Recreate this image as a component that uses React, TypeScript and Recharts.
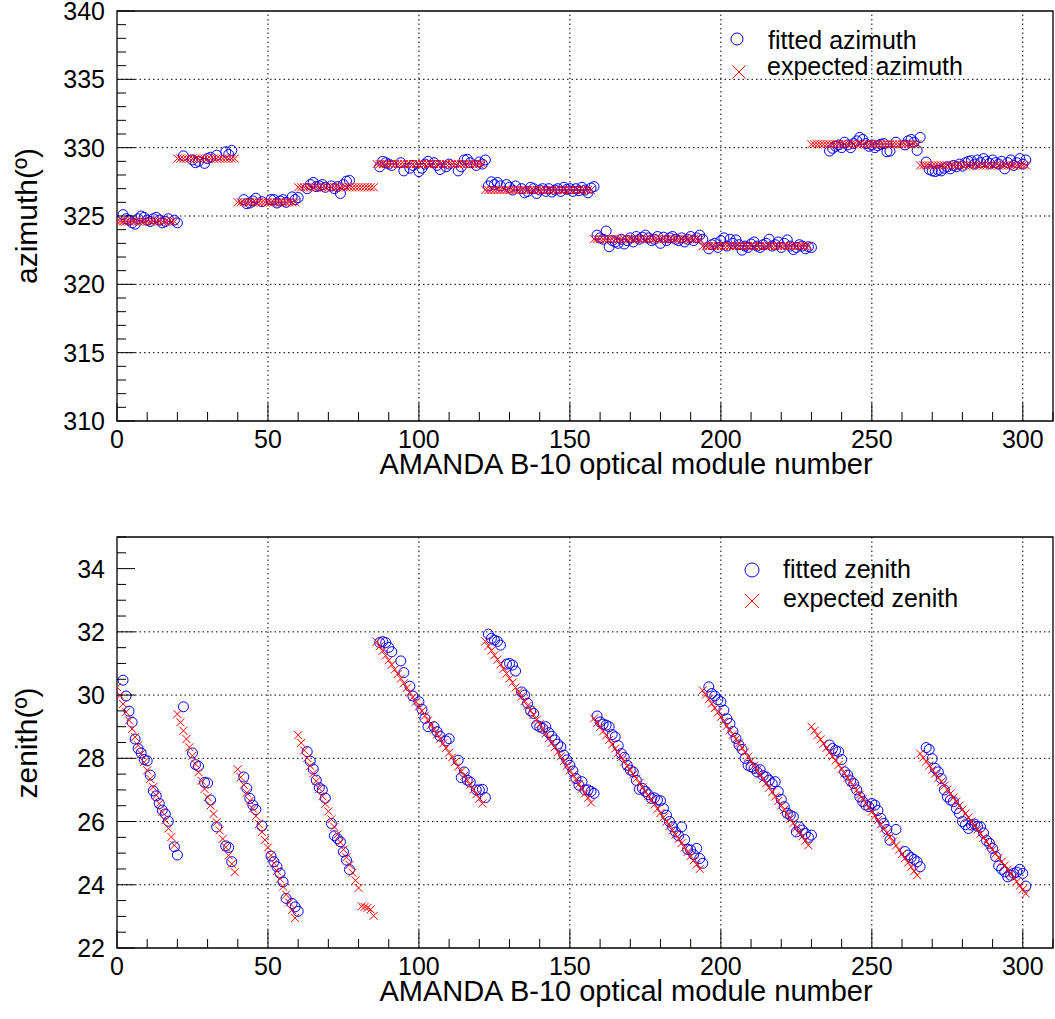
import React from "react";
import {
  ScatterChart,
  Scatter,
  XAxis,
  YAxis,
  ReferenceLine,
  ReferenceArea,
} from "recharts";

const FONT = "'Liberation Sans', Arial, Helvetica, sans-serif";

// expected azimuth per optical module (OM 1..302), grouped by string
const expectedAzimuth: number[][] = [
  [324.6, 324.6, 324.6, 324.6, 324.6, 324.6, 324.6, 324.6, 324.6, 324.6,
   324.6, 324.6, 324.6, 324.6, 324.6, 324.6, 324.6, 324.6, 324.6, 324.6],
  [329.2, 329.2, 329.2, 329.2, 329.2, 329.2, 329.2, 329.2, 329.2, 329.2,
   329.2, 329.2, 329.2, 329.2, 329.2, 329.2, 329.2, 329.2, 329.2, 329.2],
  [326.0, 326.0, 326.0, 326.0, 326.0, 326.0, 326.0, 326.0, 326.0, 326.0,
   326.0, 326.0, 326.0, 326.0, 326.0, 326.0, 326.0, 326.0, 326.0, 326.0],
  [327.1, 327.1, 327.1, 327.1, 327.1, 327.1, 327.1, 327.1, 327.1, 327.1,
   327.1, 327.1, 327.1, 327.1, 327.1, 327.1, 327.1, 327.1, 327.1, 327.1,
   327.1, 327.1, 327.1, 327.1, 327.1, 327.1],
  [328.8, 328.8, 328.8, 328.8, 328.8, 328.8, 328.8, 328.8, 328.8, 328.8,
   328.8, 328.8, 328.8, 328.8, 328.8, 328.8, 328.8, 328.8, 328.8, 328.8,
   328.8, 328.8, 328.8, 328.8, 328.8, 328.8, 328.8, 328.8, 328.8, 328.8,
   328.8, 328.8, 328.8, 328.8, 328.8, 328.8],
  [326.9, 326.9, 326.9, 326.9, 326.9, 326.9, 326.9, 326.9, 326.9, 326.9,
   326.9, 326.9, 326.9, 326.9, 326.9, 326.9, 326.9, 326.9, 326.9, 326.9,
   326.9, 326.9, 326.9, 326.9, 326.9, 326.9, 326.9, 326.9, 326.9, 326.9,
   326.9, 326.9, 326.9, 326.9, 326.9, 326.9],
  [323.3, 323.3, 323.3, 323.3, 323.3, 323.3, 323.3, 323.3, 323.3, 323.3,
   323.3, 323.3, 323.3, 323.3, 323.3, 323.3, 323.3, 323.3, 323.3, 323.3,
   323.3, 323.3, 323.3, 323.3, 323.3, 323.3, 323.3, 323.3, 323.3, 323.3,
   323.3, 323.3, 323.3, 323.3, 323.3, 323.3],
  [322.8, 322.8, 322.8, 322.8, 322.8, 322.8, 322.8, 322.8, 322.8, 322.8,
   322.8, 322.8, 322.8, 322.8, 322.8, 322.8, 322.8, 322.8, 322.8, 322.8,
   322.8, 322.8, 322.8, 322.8, 322.8, 322.8, 322.8, 322.8, 322.8, 322.8,
   322.8, 322.8, 322.8, 322.8, 322.8, 322.8],
  [330.25, 330.25, 330.25, 330.25, 330.25, 330.25, 330.25, 330.25, 330.25, 330.25,
   330.25, 330.25, 330.25, 330.25, 330.25, 330.25, 330.25, 330.25, 330.25, 330.25,
   330.25, 330.25, 330.25, 330.25, 330.25, 330.25, 330.25, 330.25, 330.25, 330.25,
   330.25, 330.25, 330.25, 330.25, 330.25, 330.25],
  [328.7, 328.7, 328.7, 328.7, 328.7, 328.7, 328.7, 328.7, 328.7, 328.7,
   328.7, 328.7, 328.7, 328.7, 328.7, 328.7, 328.7, 328.7, 328.7, 328.7,
   328.7, 328.7, 328.7, 328.7, 328.7, 328.7, 328.7, 328.7, 328.7, 328.7,
   328.7, 328.7, 328.7, 328.7, 328.7, 328.7],
];

// fitted azimuth (null = no fit for that OM)
const fittedAzimuth: (number | null)[][] = [
  [null, 325.1, 324.8, 324.7, 324.5, 324.4, 324.8, 325.0, 324.9, 324.7,
   324.6, 324.8, 324.9, 324.7, 324.5, 324.6, 324.8, null, 324.7, 324.5],
  [null, 329.4, null, null, 329.1, 328.9, 329.0, null, 328.85, 329.2,
   329.3, null, 329.45, null, null, 329.7, 329.5, 329.8, null, null],
  [null, 326.2, 325.9, 325.95, 326.1, 326.3, null, 326.05, null, null,
   326.2, 326.2, 325.95, 326.1, 326.2, 326.0, null, 326.4, 326.2, 326.35],
  [null, null, 327.0, 327.3, 327.45, 327.15, 327.2, 327.3, 327.1, null,
   327.2, 327.0, 327.15, 326.65, 327.3, 327.55, 327.6, null, null, null,
   null, null, null, null, null, null],
  [328.6, 329.0, 328.9, 328.8, 328.7, null, null, 328.9, 328.3, null,
   328.5, 328.7, null, 328.25, 328.5, 328.8, 329.0, null, 328.9, 328.7,
   328.4, null, 328.6, 328.8, null, null, 328.3, 328.6, 329.1, 329.15,
   328.9, null, 328.7, 328.95, 328.8, 329.1],
  [327.2, 327.5, 327.3, 327.45, 327.2, null, 327.3, 327.1, 326.9, 327.2,
   null, 327.0, 326.7, 326.8, 327.1, 327.0, 326.65, 326.9, 327.0, 326.8,
   327.0, 326.75, 326.9, 327.0, 326.8, 327.1, 326.95, 327.0, 326.8, 327.0,
   326.85, 327.1, 326.9, 326.7, 327.05, 327.15],
  [323.6, 323.4, 323.3, 323.9, 322.75, 323.2, 323.1, 323.0, 323.3, 322.95,
   323.2, 323.4, 323.1, 323.5, 323.3, 323.45, 323.6, 323.4, 323.2, 323.3,
   323.5, 323.0, 323.45, 323.2, 323.4, 323.5, 323.3, 323.2, 323.4, 323.1,
   323.3, 323.5, 323.2, 323.4, 323.6, 323.3],
  [null, 322.6, 322.9, 323.0, 322.7, 323.2, 323.4, 322.8, 323.3, 323.0,
   323.25, 322.9, 322.5, 322.8, 322.7, 322.95, 323.1, 322.8, 322.7, 322.9,
   323.0, 323.3, 322.8, 322.9, 323.1, 322.7, 323.0, 323.25, 322.8, 322.55,
   322.7, 322.9, 322.8, 322.6, 322.75, 322.7],
  [null, null, null, null, null, 329.75, 329.95, 330.1, 330.2, 330.0,
   330.4, 330.2, 330.0, 330.3, 330.5, 330.75, 330.6, 330.3, 330.1, 330.2,
   330.0, 330.15, 330.25, 330.3, 329.7, 329.75, null, 330.4, null, null,
   330.2, 330.5, 330.6, 330.4, 329.8, 330.75],
  [null, 328.95, 328.4, 328.3, 328.25, 328.35, 328.3, 328.5, 328.6, 328.45,
   328.7, 328.6, 328.8, 328.65, 328.9, 329.0, 329.05, 328.8, 329.1, 328.9,
   329.2, 329.0, 328.85, 329.1, 328.9, 328.8, 329.0, 328.45, 328.9, 329.1,
   328.7, 328.9, 329.2, 328.8, 329.1, null],
];

// expected zenith per OM
const expectedZenith: number[][] = [
  [30.25, 29.99, 29.72, 29.46, 29.2, 28.93, 28.67, 28.41, 28.14, 27.88,
   27.62, 27.35, 27.09, 26.83, 26.57, 26.3, 26.04, 25.78, 25.51, 25.25],
  [29.4, 29.14, 28.87, 28.61, 28.35, 28.08, 27.82, 27.56, 27.29, 27.03,
   26.77, 26.51, 26.24, 25.98, 25.72, 25.45, 25.19, 24.93, 24.66, 24.4],
  [27.65, 27.4, 27.16, 26.91, 26.66, 26.41, 26.17, 25.92, 25.67, 25.42,
   25.18, 24.93, 24.68, 24.43, 24.19, 23.94, 23.69, 23.44, 23.2, 22.95],
  [28.73, 28.49, 28.25, 28.01, 27.76, 27.52, 27.28, 27.04, 26.8, 26.56,
   26.32, 26.07, 25.83, 25.59, 25.35, 25.11, 24.87, 24.63, 24.38, 24.14,
   23.9, 23.32, 23.3, 23.27, 23.22, 23.02],
  [31.69, 31.54, 31.4, 31.25, 31.1, 30.96, 30.81, 30.67, 30.52, 30.37,
   30.23, 30.08, 29.93, 29.79, 29.64, 29.5, 29.35, 29.2, 29.06, 28.91,
   28.76, 28.62, 28.47, 28.33, 28.18, 28.03, 27.89, 27.74, 27.59, 27.45,
   27.3, 27.16, 27.01, 26.86, 26.72, 26.57],
  [31.7, 31.55, 31.41, 31.26, 31.12, 30.97, 30.83, 30.68, 30.53, 30.39,
   30.24, 30.1, 29.95, 29.81, 29.66, 29.51, 29.37, 29.22, 29.08, 28.93,
   28.79, 28.64, 28.49, 28.35, 28.2, 28.06, 27.91, 27.77, 27.62, 27.47,
   27.33, 27.18, 27.04, 26.89, 26.75, 26.6],
  [29.26, 29.12, 28.99, 28.85, 28.72, 28.58, 28.44, 28.31, 28.17, 28.04,
   27.9, 27.76, 27.63, 27.49, 27.36, 27.22, 27.08, 26.95, 26.81, 26.68,
   26.54, 26.4, 26.27, 26.13, 26.0, 25.86, 25.72, 25.59, 25.45, 25.32,
   25.18, 25.04, 24.91, 24.77, 24.64, 24.5],
  [30.15, 30.01, 29.87, 29.73, 29.59, 29.45, 29.31, 29.17, 29.03, 28.89,
   28.75, 28.61, 28.47, 28.33, 28.19, 28.05, 27.91, 27.77, 27.63, 27.49,
   27.35, 27.21, 27.07, 26.93, 26.79, 26.65, 26.51, 26.37, 26.23, 26.09,
   25.95, 25.81, 25.67, 25.53, 25.39, 25.25],
  [29.0, 28.87, 28.73, 28.6, 28.46, 28.33, 28.19, 28.06, 27.93, 27.79,
   27.66, 27.52, 27.39, 27.25, 27.12, 26.99, 26.85, 26.72, 26.58, 26.45,
   26.31, 26.18, 26.05, 25.91, 25.78, 25.64, 25.51, 25.37, 25.24, 25.11,
   24.97, 24.84, 24.7, 24.57, 24.43, 24.3],
  [28.15, 28.02, 27.9, 27.77, 27.64, 27.52, 27.39, 27.26, 27.14, 27.01,
   26.88, 26.76, 26.63, 26.5, 26.38, 26.25, 26.13, 26.0, 25.87, 25.75,
   25.62, 25.49, 25.37, 25.24, 25.11, 24.99, 24.86, 24.73, 24.61, 24.48,
   24.35, 24.23, 24.1, 23.97, 23.85, 23.72],
];

// fitted zenith (null = no fit)
const fittedZenith: (number | null)[][] = [
  [null, 30.47, 29.97, 29.49, 29.14, 28.61, 28.31, 28.17, 27.96, 27.92,
   27.47, 26.97, 26.81, 26.57, 26.36, 26.24, 26.01, null, 25.2, 24.94],
  [null, 29.63, null, null, 28.17, 27.8, 27.75, null, 27.24, 27.22,
   26.68, null, 25.83, null, null, 25.23, 25.18, 24.73, null, null],
  [null, 27.41, 27.05, 26.73, 26.52, 26.38, null, 25.86, null, null,
   24.91, 24.73, 24.57, 24.36, 24.09, 23.57, null, 23.41, 23.3, 23.16],
  [null, null, 28.21, 27.91, 27.66, 27.31, 27.07, 27.0, 26.74, null,
   25.94, 25.55, 25.46, 25.36, 25.04, 24.78, 24.48, null, null, null,
   null, null, null, null, null, null],
  [31.66, 31.69, 31.66, 31.51, 31.37, null, null, 31.08, 30.71, null,
   30.28, 29.97, null, 29.79, 29.55, 29.26, 29.0, null, 29.0, 28.84,
   28.7, null, 28.55, 28.62, null, null, 27.94, 27.39, 27.57, 27.31,
   27.25, null, 27.0, 27.0, 27.02, 26.76],
  [31.93, 31.79, 31.74, 31.7, 31.58, null, 30.98, 31.0, 30.95, 30.76,
   null, 30.1, 30.0, 29.74, 29.5, 29.42, 29.05, 29.0, 28.95, 29.0,
   28.81, 28.7, 28.58, 28.45, 28.36, 28.1, 27.95, 27.78, 27.6, 27.36,
   27.15, 27.26, 27.0, 27.0, 26.95, 26.89],
  [29.34, 29.15, 29.08, 29.05, 29.0, 28.75, 28.68, 28.4, 28.15, 28.03,
   27.78, 27.63, 27.57, 27.3, 27.02, 27.05, 26.95, 26.85, 26.73, 26.75,
   26.68, 26.66, 26.41, 26.2, 26.0, 25.83, 25.67, 25.55, 25.83, 25.43,
   25.12, 25.1, 24.95, 25.15, 24.83, 24.68],
  [null, 30.26, 30.05, 29.97, 29.85, 29.79, 29.52, 29.25, 29.1, 28.85,
   28.63, 28.42, 28.28, 28.0, 27.78, 27.73, 27.68, 27.57, 27.64, 27.45,
   27.41, 27.31, 27.2, 27.26, 26.95, 26.7, 26.47, 26.26, 26.2, 26.15,
   25.67, 25.83, 25.73, 25.62, 25.5, 25.57],
  [null, null, null, null, null, 28.42, 28.31, 28.25, 28.21, 27.96,
   27.57, 27.47, 27.29, 27.2, 27.0, 26.78, 26.63, 26.52, 26.47, 26.57,
   26.52, 26.35, 26.1, 25.94, 25.75, 25.41, null, 25.75, null, null,
   25.05, 24.94, 24.86, 24.8, 24.73, 24.57],
  [null, 28.34, 28.28, 27.99, 27.68, 27.57, 27.36, 27.0, 26.78, 26.68,
   26.63, 26.41, 26.26, 26.0, 25.9, 25.78, 25.89, 25.92, 25.85, 25.83,
   25.64, 25.4, 25.31, 25.15, 24.89, 24.6, 24.49, 24.41, 24.25, 24.3,
   24.36, 24.4, 24.49, 24.36, 23.96, null],
];

const xMajor = [0, 50, 100, 150, 200, 250, 300];
const azMajor = [310, 315, 320, 325, 330, 335, 340];
const zenMajor = [22, 24, 26, 28, 30, 32, 34];

const range = (a: number, b: number, s: number) => {
  const out: number[] = [];
  for (let v = a; v <= b + 1e-9; v += s) out.push(Math.round(v * 100) / 100);
  return out;
};
const xTicks = range(0, 310, 10);
const azTicks = range(310, 340, 1);
const zenTicks = range(22, 35, 0.5);

// expected values sit at OM-1, fitted ones at OM
const toExpected = (rows: number[][]) =>
  rows.flat().map((v, i) => ({ x: i, y: v }));
const toFitted = (rows: (number | null)[][]) =>
  rows
    .flat()
    .map((v, i) => (v == null ? null : { x: i + 1, y: v }))
    .filter((p): p is { x: number; y: number } => p !== null);

const CircleMark = (p: any) => (
  <circle cx={p.cx} cy={p.cy} r={5} fill="none" stroke="#0000ff" strokeWidth={1} />
);
const CrossMark = (p: any) => {
  const s = 4;
  return (
    <g stroke="#ff0000" strokeWidth={1}>
      <line x1={p.cx - s} y1={p.cy - s} x2={p.cx + s} y2={p.cy + s} />
      <line x1={p.cx - s} y1={p.cy + s} x2={p.cx + s} y2={p.cy - s} />
    </g>
  );
};

const renderXTick = (props: any) => {
  const { x, y, payload } = props;
  const major = xMajor.includes(payload.value);
  return (
    <g>
      <line x1={x} x2={x} y1={y} y2={y - (major ? 18 : 9)} stroke="#000" />
      {major && (
        <text x={x} y={y + 27} textAnchor="middle" fontSize={25} fontFamily={FONT} fill="#000">
          {payload.value}
        </text>
      )}
    </g>
  );
};

const makeYTick = (majors: number[]) => (props: any) => {
  const { x, y, payload } = props;
  const major = majors.includes(payload.value);
  return (
    <g>
      <line x1={x} x2={x + (major ? 18 : 9)} y1={y} y2={y} stroke="#000" />
      {major && (
        <text x={x - 12} y={y + 9} textAnchor="end" fontSize={25} fontFamily={FONT} fill="#000">
          {payload.value}
        </text>
      )}
    </g>
  );
};

const Panel = ({
  top,
  height,
  marginTop,
  xAxisHeight,
  yDomain,
  yTicks,
  yMajor,
  fitted,
  expected,
}: {
  top: number;
  height: number;
  marginTop: number;
  xAxisHeight: number;
  yDomain: [number, number];
  yTicks: number[];
  yMajor: number[];
  fitted: { x: number; y: number }[];
  expected: { x: number; y: number }[];
}) => (
  <div style={{ position: "absolute", left: 0, top }}>
    <ScatterChart
      width={1055}
      height={height}
      margin={{ top: marginTop, right: 2, bottom: 0, left: 0 }}
      style={{ overflow: "visible" }}
    >
      <XAxis
        type="number"
        dataKey="x"
        domain={[0, 310]}
        allowDataOverflow
        ticks={xTicks}
        interval={0}
        tickSize={0}
        tickMargin={0}
        axisLine={false}
        tickLine={false}
        tick={renderXTick}
        height={xAxisHeight}
      />
      <YAxis
        type="number"
        dataKey="y"
        domain={yDomain}
        allowDataOverflow
        ticks={yTicks}
        interval={0}
        tickSize={0}
        tickMargin={0}
        axisLine={false}
        tickLine={false}
        tick={makeYTick(yMajor)}
        width={117}
      />
      {xMajor.slice(1).map((v) => (
        <ReferenceLine key={"vx" + v} x={v} stroke="#000" strokeDasharray="1.5 3" />
      ))}
      {yMajor.slice(1, -1).map((v) => (
        <ReferenceLine key={"hy" + v} y={v} stroke="#000" strokeDasharray="1.5 3" />
      ))}
      <ReferenceArea
        x1={0}
        x2={310}
        y1={yDomain[0]}
        y2={yDomain[1]}
        fill="none"
        stroke="#000"
        strokeWidth={1.3}
      />
      <Scatter data={fitted} shape={CircleMark} isAnimationActive={false} />
      <Scatter data={expected} shape={CrossMark} isAnimationActive={false} />
    </ScatterChart>
  </div>
);

const LegendCircle = ({ cx, cy, r }: { cx: number; cy: number; r: number }) => (
  <circle cx={cx} cy={cy} r={r} fill="none" stroke="#0000ff" strokeWidth={1} />
);
const LegendCross = ({ cx, cy, s }: { cx: number; cy: number; s: number }) => (
  <g stroke="#ff0000" strokeWidth={1}>
    <line x1={cx - s} y1={cy - s} x2={cx + s} y2={cy + s} />
    <line x1={cx - s} y1={cy + s} x2={cx + s} y2={cy - s} />
  </g>
);

export default function App() {
  return (
    <div style={{ position: "absolute", left: 0, top: 0, width: 1055, height: 1019, background: "#fff" }}>
      <Panel
        top={0}
        height={480}
        marginTop={11}
        xAxisHeight={59}
        yDomain={[310, 340]}
        yTicks={azTicks}
        yMajor={azMajor}
        fitted={toFitted(fittedAzimuth)}
        expected={toExpected(expectedAzimuth)}
      />
      <Panel
        top={480}
        height={539}
        marginTop={57}
        xAxisHeight={71}
        yDomain={[22, 35]}
        yTicks={zenTicks}
        yMajor={zenMajor}
        fitted={toFitted(fittedZenith)}
        expected={toExpected(expectedZenith)}
      />
      <svg
        width={1055}
        height={1019}
        style={{ position: "absolute", left: 0, top: 0, pointerEvents: "none" }}
        fontFamily={FONT}
      >
        <text x={626} y={474} textAnchor="middle" fontSize={29}>
          AMANDA B-10 optical module number
        </text>
        <text x={626} y={1001} textAnchor="middle" fontSize={29}>
          AMANDA B-10 optical module number
        </text>
        <text transform="translate(37,216) rotate(-90)" textAnchor="middle" fontSize={30}>
          azimuth(º)
        </text>
        <text transform="translate(37,743) rotate(-90)" textAnchor="middle" fontSize={30}>
          zenith(º)
        </text>

        <LegendCircle cx={737} cy={39} r={6} />
        <text x={768} y={49} fontSize={25}>fitted azimuth</text>
        <LegendCross cx={739} cy={72} s={6.5} />
        <text x={767} y={75} fontSize={25}>expected azimuth</text>

        <LegendCircle cx={752} cy={570} r={7} />
        <text x={783} y={578} fontSize={25}>fitted zenith</text>
        <LegendCross cx={752} cy={601} s={7} />
        <text x={783} y={607} fontSize={25}>expected zenith</text>
      </svg>
    </div>
  );
}
